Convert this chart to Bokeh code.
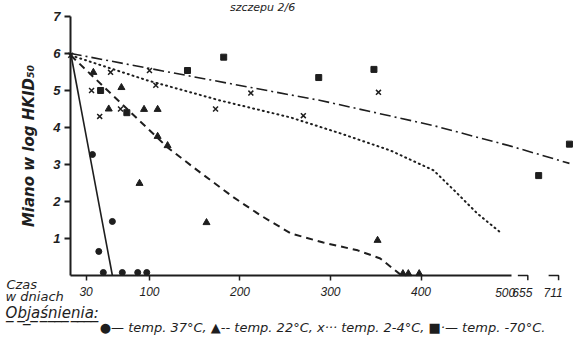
import numpy as np
from bokeh.plotting import figure
from bokeh.models import Range1d, FixedTicker, Label
from bokeh.embed import file_html
from bokeh.resources import INLINE

# ---------------- data (days, log titre) ----------------
# 37 C  (filled circles, solid line)
c37_days = [37, 44, 59, 49, 70, 87, 97]
c37_vals = [3.27, 0.65, 1.46, 0.08, 0.08, 0.08, 0.08]
# 22 C  (triangles, dashed line)
t22_days = [38, 69, 55, 94, 109, 109, 120, 89, 163, 352, 380, 386, 398]
t22_vals = [5.49, 5.08, 4.5, 4.49, 4.49, 3.76, 3.51, 2.49, 1.43, 0.95, 0.05, 0.05, 0.05]
# 2-4 C (crosses, dotted line)
x24_days = [13, 57, 36, 45, 68, 100, 107, 173, 212, 270, 353]
x24_vals = [5.95, 5.49, 5.0, 4.3, 4.5, 5.54, 5.14, 4.5, 4.93, 4.32, 4.95]
# -70 C (squares, dash-dot line)
s70_days = [46, 75, 142, 182, 287, 348, 655, 711]
s70_vals = [5.0, 4.4, 5.54, 5.9, 5.35, 5.57, 2.7, 3.55]

# fitted curves
l37_days = [13, 59]
l37_vals = [6.0, 0.0]
l22_days = [13, 120, 153, 193, 223, 256, 292, 330, 355, 377]
l22_vals = [5.95, 3.46, 2.84, 2.11, 1.62, 1.14, 0.89, 0.68, 0.46, 0.03]
l24_days = [13, 98, 178, 256, 311, 366, 414, 440, 462, 489]
l24_vals = [5.95, 5.27, 4.73, 4.27, 3.84, 3.38, 2.84, 2.22, 1.68, 1.14]
l70_days = [13, 123, 212, 289, 414, 500, 711]
l70_vals = [6.0, 5.49, 5.08, 4.73, 4.05, 3.49, 3.03]

x_ticks = [30, 100, 200, 300, 400]
end_tick = 500
broken_ticks = [655, 711]
y_ticks = [1, 2, 3, 4, 5, 6, 7]

# ---------------- broken x scale (beyond 500 days) ----------------
BREAK_DAYS = [500, 655, 711]
BREAK_POS = [500, 530, 564]


def pos(d):
    d = np.asarray(d, dtype=float)
    return np.where(d <= 500, d, np.interp(d, BREAK_DAYS, BREAK_POS))


INK = "#1e1e1e"
FONT = "Liberation Sans"
HAND = "DejaVu Sans"
X0 = 12.7          # where the value axis stands
XR = (-64.6, 572.9)
YR = (-1.676, 7.432)

p = figure(width=577, height=337,
           x_range=Range1d(*XR), y_range=Range1d(*YR),
           output_backend="svg", toolbar_location=None,
           min_border_left=0, min_border_right=0,
           min_border_top=0, min_border_bottom=0)
p.outline_line_color = None
p.grid.visible = False
p.background_fill_color = "white"
p.border_fill_color = "white"

# y axis
ya = p.yaxis[0]
ya.fixed_location = X0
ya.bounds = (0, 7)
ya.ticker = FixedTicker(ticks=y_ticks)
ya.axis_line_width = 2
ya.axis_line_color = INK
ya.major_tick_line_color = INK
ya.major_tick_line_width = 2
ya.major_tick_out = 6
ya.major_tick_in = 0
ya.minor_tick_line_color = None
ya.major_label_text_font = FONT
ya.major_label_text_font_style = "bold italic"
ya.major_label_text_font_size = "13px"
ya.major_label_text_color = INK
ya.major_label_standoff = 4
ya.axis_label = "Miano w log HKID₅₀"
ya.axis_label_text_font = HAND
ya.axis_label_text_font_style = "bold italic"
ya.axis_label_text_font_size = "15px"
ya.axis_label_text_color = INK
ya.axis_label_standoff = 12

# x axis
xa = p.xaxis[0]
xa.fixed_location = 0
xa.bounds = (X0, end_tick)
xa.ticker = FixedTicker(ticks=x_ticks)
xa.axis_line_width = 2
xa.axis_line_color = INK
xa.major_tick_line_color = INK
xa.major_tick_line_width = 1.5
xa.major_tick_out = 5
xa.major_tick_in = 0
xa.minor_tick_line_color = None
xa.major_label_standoff = 7
xa.major_label_text_font = FONT
xa.major_label_text_font_style = "italic"
xa.major_label_text_font_size = "12px"
xa.major_label_text_color = INK

TICK_LABEL_Y = -0.34

# end of the continuous axis
p.add_layout(Label(x=end_tick - 7, y=TICK_LABEL_Y, text=str(end_tick), text_align="center",
                   text_baseline="top", text_font=FONT, text_font_style="italic",
                   text_font_size="12px", text_color=INK))

# broken-axis hooks and their labels
for d in broken_ticks:
    e = float(pos(d)) - 12
    p.line([e - 11, e, e], [0, 0, -0.13], line_width=1.5, line_color=INK)
    p.add_layout(Label(x=e - 6, y=TICK_LABEL_Y, text=str(d), text_align="center",
                       text_baseline="top", text_font=FONT, text_font_style="italic",
                       text_font_size="12px", text_color=INK))

# curves
p.line(pos(l37_days), l37_vals, line_width=1.6, line_color=INK)
p.line(pos(l22_days), l22_vals, line_width=2, line_color=INK, line_dash="7 5")
p.line(pos(l24_days), l24_vals, line_width=2, line_color=INK, line_dash="1 4", line_cap="round")
p.line(pos(l70_days), l70_vals, line_width=1.6, line_color=INK, line_dash="11 4 2 4")

# points
p.scatter(pos(c37_days), c37_vals, marker="circle", size=6, color=INK)
p.scatter(pos(t22_days), t22_vals, marker="triangle", size=7, color=INK)
p.scatter(pos(x24_days), x24_vals, marker="x", size=7, line_color=INK, line_width=1.5)
p.scatter(pos(s70_days), s70_vals, marker="square", size=6, color=INK)

# texts
p.add_layout(Label(x=225, y=YR[1], text="szczepu 2/6", text_align="center",
                   text_baseline="top", text_font=HAND, text_font_style="italic",
                   text_font_size="11px", text_color=INK))
p.add_layout(Label(x=-58, y=-0.24, text="Czas", text_align="left",
                   text_baseline="middle", text_font=HAND, text_font_style="italic",
                   text_font_size="13px", text_color=INK))
p.add_layout(Label(x=-59, y=-0.57, text="w dniach", text_align="left",
                   text_baseline="middle", text_font=HAND, text_font_style="italic",
                   text_font_size="13px", text_color=INK))
p.add_layout(Label(x=-59, y=-1.02, text="O̲b̲j̲a̲ś̲n̲i̲e̲n̲i̲a̲:̲", text_align="left",
                   text_baseline="middle", text_font=HAND, text_font_style="italic",
                   text_font_size="15px", text_color=INK))
p.add_layout(Label(x=45, y=-1.41,
                   text="●— temp. 37°C, ▲-- temp. 22°C, x··· temp. 2-4°C, ■·— temp. -70°C.",
                   text_align="left", text_baseline="middle", text_font=HAND,
                   text_font_style="italic", text_font_size="13px", text_color=INK))

open("out.html", "w").write(file_html(p, INLINE))
